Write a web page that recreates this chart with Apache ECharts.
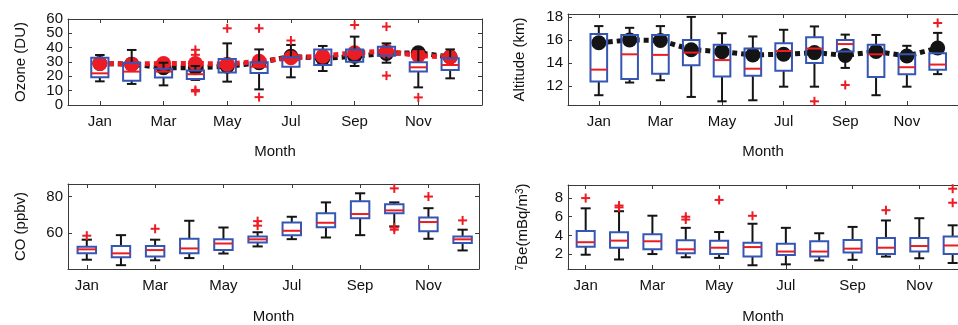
<!DOCTYPE html>
<html><head><meta charset="utf-8">
<script src="https://cdn.jsdelivr.net/npm/echarts@6/dist/echarts.min.js"></script>
<style>html,body{margin:0;padding:0;background:#fff;overflow:hidden}#c{width:958px;height:325px}</style>
</head><body><div id="c"></div>
<script>
// ---------- DATA ----------
const monthNames = ['Jan','Feb','Mar','Apr','May','Jun','Jul','Aug','Sep','Oct','Nov','Dec'];
const monthTicks = [1,3,5,7,9,11];

// Boxes: [whiskerLow, Q1, median, Q3, whiskerHigh] for Jan..Dec
const ozoneBoxes = [
  [16.5,19.3,22.1,33.0,34.9],[14.7,17.0,23.3,29.5,38.4],[13.7,19.1,23.3,25.3,29.5],[17.5,18.1,21.5,24.0,27.2],
  [16.3,22.6,26.7,32.1,43.0],[10.9,22.3,26.7,29.8,38.8],[19.3,26.7,31.4,33.3,41.9],[23.7,27.9,33.7,38.8,41.2],
  [27.2,30.2,34.9,38.8,47.7],[29.5,34.4,37.9,40.7,43.0],[12.3,23.3,26.3,29.8,39.0],[18.6,24.4,27.9,32.6,38.8]
];
const ozoneOutliers = [[4,38.5],[4,35],[4,10.5],[4,9.5],[5,53.5],[6,53.5],[6,5.5],[7,45],[9,55.8],[10,54.7],[10,20.5],[11,5.3]];
const ozoneMeanBlack = [29,28.5,26,26,27,29.5,34,32.5,34,36,36.5,33.5];
const ozoneMeanRed = [29,28.5,29,29,28.5,30.5,33,34,36.5,37.5,34.5,33.5];
const ozoneTicks = [0,10,20,30,40,50,60];

const altBoxes = [
  [11.2,12.38,13.42,16.52,17.2],[12.3,12.6,14.75,16.43,17.05],[12.5,13.06,14.7,16.43,17.2],[11.05,13.8,14.9,15.99,18.0],
  [10.67,12.83,14.25,15.58,16.58],[10.76,12.9,13.5,15.25,16.3],[11.94,13.33,15.04,15.72,16.88],[11.94,14.0,15.25,16.23,17.17],
  [13.57,14.99,15.64,15.99,16.46],[11.2,12.77,14.75,15.58,16.43],[11.94,13.03,13.63,14.75,15.49],[13.03,13.42,13.86,14.84,16.61]
];
const altOutliers = [[8,10.67],[9,12.09],[12,17.47]];
const altMeanBlack = [15.75,16.0,15.95,15.15,14.98,14.7,14.75,14.9,14.65,15.0,14.6,15.3];
const altTicks = [12,14,16,18];

const coBoxes = [
  [45.3,48.8,51.0,52.4,56.3],[42.3,46.7,48.8,52.9,58.8],[45.0,47.1,50.6,52.9,56.3],[46.2,48.8,51.5,56.8,66.7],
  [48.7,50.6,54.2,56.6,63.0],[52.6,54.7,56.5,58.0,60.4],[56.6,58.8,61.2,65.8,68.9],[57.5,63.2,65.6,70.8,76.8],
  [58.8,68.1,70.4,77.4,81.8],[63.6,70.8,72.4,75.8,76.8],[56.8,60.9,66.0,68.5,73.6],[50.4,54.5,56.5,58.0,61.8]
];
const coOutliers = [[1,58.5],[3,62.3],[6,66.5],[6,64],[10,84.5],[10,63],[10,61.8],[11,80],[12,66.9]];
const coTicks = [60,80];

const beBoxes = [
  [1.93,2.79,3.27,4.47,6.9],[1.42,2.68,3.44,4.33,6.59],[2.0,2.51,3.37,4.12,6.11],[1.66,2.1,2.51,3.47,4.81],
  [1.59,2.0,2.68,3.44,4.36],[0.8,1.73,2.75,3.2,5.25],[0.9,1.9,2.27,3.1,4.81],[1.32,1.73,2.27,3.37,4.23],
  [1.38,2.17,2.58,3.5,4.91],[1.73,2.0,2.68,3.71,5.6],[1.55,2.27,2.86,3.71,5.84],[1.04,2.0,2.92,3.88,5.08]
];
const beOutliers = [[1,8.0],[2,7.2],[2,7.0],[4,6.0],[4,5.7],[5,7.8],[6,6.1],[10,6.7],[12,9.0],[12,7.5]];
const beTicks = [2,4,6,8];

// ---------- STYLE / LAYOUT ----------
const FONT = '"Liberation Sans", Arial, Helvetica, sans-serif';
const AXC = '#3a3a3a';
const BLUE = '#3556b4';
const RED = '#ec1c24';
const BLACK = '#141414';

const panels = [
  {grid:{left:68, top:19, width:414, height:86}, xmin:0, xmax:13, ymin:0, ymax:60, yticks:ozoneTicks, rightFrame:true,
   name:'Ozone (DU)', nameGap:40, xNameGap:39, boxes:ozoneBoxes, outliers:ozoneOutliers,
   means:[{d:ozoneMeanBlack,c:BLACK},{d:ozoneMeanRed,c:RED}]},
  {grid:{left:568, top:14, width:390, height:91}, xmin:0, xmax:12.66, ymin:10.35, ymax:18.25, yticks:altTicks, rightFrame:false,
   name:'Altitude (km)', nameGap:41, xNameGap:39, boxes:altBoxes, outliers:altOutliers,
   means:[{d:altMeanBlack,c:BLACK}]},
  {grid:{left:68, top:184, width:411, height:88}, xmin:0.45, xmax:12.48, ymin:40.2, ymax:86.9, yticks:coTicks, rightFrame:true,
   name:'CO (ppbv)', nameGap:40, xNameGap:40, boxes:coBoxes, outliers:coOutliers, means:[]},
  {grid:{left:568, top:185, width:390, height:87}, xmin:0.47, xmax:12.16, ymin:0.4, ymax:9.4, yticks:beTicks, rightFrame:false,
   name:'{s|7}Be(mBq/m{s|3})', nameGap:37, xNameGap:40, boxes:beBoxes, outliers:beOutliers, means:[]}
];

function boxRender(params, api){
  const m = api.value(0);
  const c = v => api.coord([m, v]);
  const pLo=c(api.value(1)), pQ1=c(api.value(2)), pMd=c(api.value(3)), pQ3=c(api.value(4)), pHi=c(api.value(5));
  const hw = api.size([0.27,0])[0];
  const cw = api.size([0.15,0])[0];
  const x = pMd[0];
  const blk = {stroke:BLACK, lineWidth:2, fill:null};
  return {type:'group', children:[
    {type:'line', shape:{x1:x,y1:pHi[1],x2:x,y2:pQ3[1]}, style:blk},
    {type:'line', shape:{x1:x,y1:pQ1[1],x2:x,y2:pLo[1]}, style:blk},
    {type:'line', shape:{x1:x-cw,y1:pHi[1],x2:x+cw,y2:pHi[1]}, style:blk},
    {type:'line', shape:{x1:x-cw,y1:pLo[1],x2:x+cw,y2:pLo[1]}, style:blk},
    {type:'rect', shape:{x:x-hw,y:pQ3[1],width:2*hw,height:pQ1[1]-pQ3[1]}, style:{fill:null, stroke:BLUE, lineWidth:2}},
    {type:'line', shape:{x1:x-hw,y1:pMd[1],x2:x+hw,y2:pMd[1]}, style:{stroke:RED, lineWidth:2}}
  ]};
}
function plusRender(params, api){
  const p = api.coord([api.value(0), api.value(1)]);
  const s = 4.5;
  const st = {stroke:RED, lineWidth:2};
  return {type:'group', children:[
    {type:'line', shape:{x1:p[0]-s,y1:p[1],x2:p[0]+s,y2:p[1]}, style:st},
    {type:'line', shape:{x1:p[0],y1:p[1]-s,x2:p[0],y2:p[1]+s}, style:st}
  ]};
}

const grids=[], xAxes=[], yAxes=[], series=[];
panels.forEach((p, i) => {
  grids.push(p.grid);
  const xi = xAxes.length;
  const xBase = {type:'value', gridIndex:i, min:p.xmin, max:p.xmax, splitLine:{show:false},
    axisLine:{show:true, onZero:false, lineStyle:{color:AXC, width:1}}};
  xAxes.push(Object.assign({}, xBase, {position:'bottom',
    name:'Month', nameLocation:'middle', nameGap:p.xNameGap,
    nameTextStyle:{fontFamily:FONT, fontSize:15, color:'#111'},
    axisTick:{show:true, inside:true, length:4, customValues:monthTicks, lineStyle:{color:AXC}},
    axisLabel:{show:true, customValues:monthTicks, margin:9, fontFamily:FONT, fontSize:15, color:'#111',
      formatter: v => monthNames[Math.round(v)-1]}}));
  xAxes.push(Object.assign({}, xBase, {position:'top',
    axisTick:{show:true, inside:true, length:4, customValues:monthTicks, lineStyle:{color:AXC}},
    axisLabel:{show:false}}));

  const yi = yAxes.length;
  const yBase = {type:'value', gridIndex:i, min:p.ymin, max:p.ymax, splitLine:{show:false},
    axisLine:{show:true, onZero:false, lineStyle:{color:AXC, width:1}}};
  const evenT = p.yticks.filter((v, k) => k % 2 === 0);
  const oddT = p.yticks.filter((v, k) => k % 2 === 1);
  const lbl = vals => ({show:true, customValues:vals, showMinLabel:true, showMaxLabel:true, margin:5,
      fontFamily:FONT, fontSize:15, color:'#111'});
  yAxes.push(Object.assign({}, yBase, {position:'left', offset:0,
    name:p.name, nameLocation:'middle', nameGap:p.nameGap,
    nameTextStyle:{fontFamily:FONT, fontSize:15, color:'#111', rich:{s:{fontFamily:FONT, fontSize:10, verticalAlign:'top', lineHeight:16, color:'#111'}}},
    axisTick:{show:true, inside:true, length:4, customValues:p.yticks, lineStyle:{color:AXC}},
    axisLabel:lbl(evenT)}));
  yAxes.push(Object.assign({}, yBase, {position:'right', offset:0,
    axisLine:{show:p.rightFrame, onZero:false, lineStyle:{color:AXC, width:1}},
    axisTick:{show:p.rightFrame, inside:true, length:4, customValues:p.yticks, lineStyle:{color:AXC}},
    axisLabel:{show:false}}));
  if (oddT.length) {
    yAxes.push(Object.assign({}, yBase, {position:'left', offset:0,
      axisLine:{show:false}, axisTick:{show:false}, axisLabel:lbl(oddT)}));
  }
  p.means.forEach((m, k) => {
    series.push({type:'line', xAxisIndex:xi, yAxisIndex:yi, z:1+k,
      data: m.d.map((v, j) => [j+1, v]),
      symbol:'circle', symbolSize:15, showSymbol:true,
      itemStyle:{color:m.c}, lineStyle:{color:m.c, width:5, type:[5,4], cap:'butt'}, silent:true});
  });
  series.push({type:'custom', xAxisIndex:xi, yAxisIndex:yi, z:5,
    data: p.boxes.map((b, j) => [j+1].concat(b)), encode:{x:0, y:[1,2,3,4,5]},
    renderItem: boxRender, silent:true});
  series.push({type:'custom', xAxisIndex:xi, yAxisIndex:yi, z:6,
    data: p.outliers, encode:{x:0, y:1}, renderItem: plusRender, silent:true});
});

const chart = echarts.init(document.getElementById('c'));
chart.setOption({animation:false, backgroundColor:'#fff', grid:grids, xAxis:xAxes, yAxis:yAxes, series:series});
</script>
</body></html>
